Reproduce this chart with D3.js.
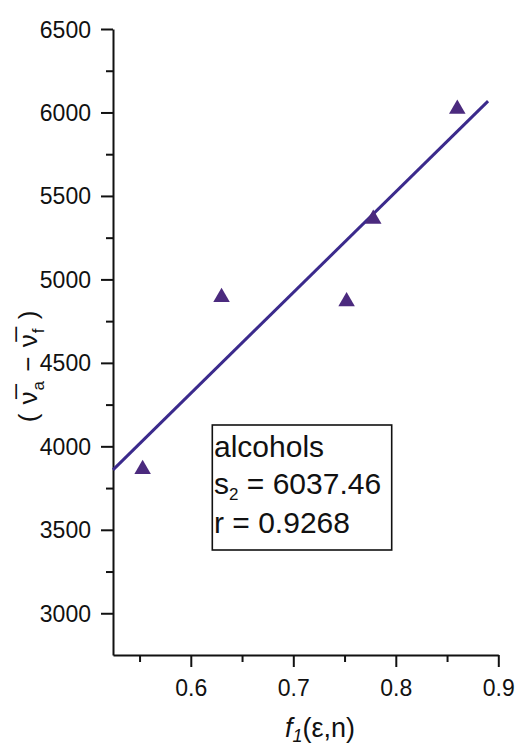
<!DOCTYPE html>
<html>
<head>
<meta charset="utf-8">
<script src="https://cdn.jsdelivr.net/npm/d3@7/dist/d3.min.js"></script>
<style>
  html, body { margin: 0; padding: 0; background: #ffffff; }
  svg { display: block; font-family: "Liberation Sans", Arial, sans-serif; }
</style>
</head>
<body>
<svg id="chart" width="515" height="749"></svg>
<script>
// Data
const fValues = [0.553, 0.630, 0.752, 0.778, 0.860];
const dNuValues = [3875, 4905, 4880, 5374, 6033];
const fitSlope = 6037.46;
const fitIntercept = 695;
const fitRange = [0.5241, 0.890];
const xTicks = [0.6, 0.7, 0.8, 0.9];
const xMinorTicks = [0.55, 0.65, 0.75, 0.85];
const yTicks = [3000, 3500, 4000, 4500, 5000, 5500, 6000, 6500];
const yMinorTicks = [3250, 3750, 4250, 4750, 5250, 5750, 6250];
const legendLines = ["alcohols", "s", "2", " = 6037.46", "r = 0.9268"];

const svg = d3.select("#chart");
const x = d3.scaleLinear().domain([0.5241, 0.9]).range([113, 498.3]);
const y = d3.scaleLinear().domain([2750, 6500]).range([655, 29]);

const axisColor = "#111";
const lineColor = "#3b2a8c";
const markColor = "#4b2a7e";

// X axis
const gx = svg.append("g").attr("transform", "translate(0,655)");
gx.call(d3.axisBottom(x).tickValues(xTicks).tickSize(12).tickPadding(13).tickFormat(d3.format(".1f")).tickSizeOuter(0));
const gxm = svg.append("g").attr("transform", "translate(0,655)");
gxm.call(d3.axisBottom(x).tickValues(xMinorTicks).tickSize(7).tickFormat("").tickSizeOuter(0));
gxm.select(".domain").remove();

// Y axis
const gy = svg.append("g").attr("transform", "translate(113,0)");
gy.call(d3.axisLeft(y).tickValues(yTicks).tickSize(12).tickPadding(10).tickFormat(d3.format("d")).tickSizeOuter(0));
const gym = svg.append("g").attr("transform", "translate(113,0)");
gym.call(d3.axisLeft(y).tickValues(yMinorTicks).tickSize(7).tickFormat("").tickSizeOuter(0));
gym.select(".domain").remove();

svg.selectAll(".domain, .tick line").attr("stroke", axisColor).attr("stroke-width", 2);
svg.selectAll(".tick text").attr("fill", axisColor).attr("font-size", 23)
  .attr("font-family", "'Liberation Sans', Arial, sans-serif");
gy.selectAll(".tick text").attr("dy", "0.35em");

// Fit line
svg.append("line")
  .attr("x1", x(fitRange[0])).attr("y1", y(fitIntercept + fitSlope * fitRange[0]))
  .attr("x2", x(fitRange[1])).attr("y2", y(fitIntercept + fitSlope * fitRange[1]))
  .attr("stroke", lineColor).attr("stroke-width", 3);

// Points (triangles)
const tri = d3.symbol().type(d3.symbolTriangle).size(118);
svg.append("g").selectAll("path")
  .data(fValues.map((f, i) => [f, dNuValues[i]]))
  .join("path")
  .attr("d", tri)
  .attr("transform", d => `translate(${x(d[0])},${y(d[1]) + 2})`)
  .attr("fill", markColor);

// Legend box
const box = svg.append("g");
box.append("rect").attr("x", 212.3).attr("y", 425).attr("width", 179.4).attr("height", 125)
  .attr("fill", "#fff").attr("stroke", axisColor).attr("stroke-width", 1.6);
const lt = box.append("text").attr("font-size", 30).attr("fill", axisColor);
lt.append("tspan").attr("x", 214).attr("y", 456.7).text(legendLines[0]);
lt.append("tspan").attr("x", 214).attr("y", 494).text(legendLines[1]);
lt.append("tspan").attr("font-size", 17).attr("dy", 6).text(legendLines[2]);
lt.append("tspan").attr("dy", -6).text(legendLines[3]);
lt.append("tspan").attr("x", 214).attr("y", 533).text(legendLines[4]);

// X axis title
const xt = svg.append("text").attr("x", 320).attr("y", 737).attr("text-anchor", "middle")
  .attr("font-size", 27).attr("fill", axisColor);
xt.append("tspan").attr("font-style", "italic").text("f");
xt.append("tspan").attr("font-style", "italic").attr("font-size", 18).attr("dy", 5).text("1");
xt.append("tspan").attr("dy", -5).text("(ε,n)");

// Y axis title
const yt = svg.append("text").attr("transform", "translate(37,366) rotate(-90)")
  .attr("text-anchor", "middle").attr("font-size", 26).attr("fill", axisColor)
  .attr("letter-spacing", 1);
yt.append("tspan").text("( ");
yt.append("tspan").text("ν\u0305");
yt.append("tspan").attr("font-size", 17).attr("dy", 7).text("a");
yt.append("tspan").attr("dy", -7).text(" − ");
yt.append("tspan").text("ν\u0305");
yt.append("tspan").attr("font-size", 17).attr("dy", 7).text("f");
yt.append("tspan").attr("dy", -7).text(" )");
</script>
</body>
</html>
